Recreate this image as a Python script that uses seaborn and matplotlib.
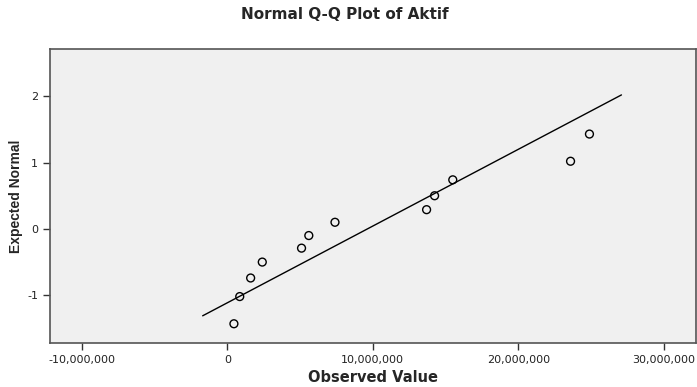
import matplotlib
matplotlib.use("Agg")
import matplotlib.pyplot as plt
import matplotlib.ticker as mticker
import seaborn as sns
import pandas as pd

# Dados (Q-Q normal de Aktif)
valor_observado = [0.45e6, 0.85e6, 1.6e6, 2.4e6, 5.1e6, 5.6e6, 7.4e6,
                   13.7e6, 14.25e6, 15.5e6, 23.6e6, 24.9e6]
normal_esperado = [-1.43, -1.02, -0.74, -0.50, -0.29, -0.10, 0.10,
                   0.29, 0.50, 0.74, 1.02, 1.43]

# Linha de referência (extremos)
linha_x = [-1.7e6, 27.1e6]
linha_y = [-1.31, 2.02]

x_ticks = [-10e6, 0, 10e6, 20e6, 30e6]
y_ticks = [-1, 0, 1, 2]

df = pd.DataFrame({'Observed': valor_observado, 'Expected': normal_esperado})
df_linha = pd.DataFrame({'x': linha_x, 'y': linha_y})

sns.set_style("ticks")
plt.rcParams['font.family'] = ['DejaVu Sans']
plt.rcParams['axes.unicode_minus'] = False

fig = plt.figure(figsize=(6.97, 3.87), dpi=100)
ax = fig.add_axes([0.0717, 0.1137, 0.9263, 0.7593])
ax.set_facecolor('#f0f0f0')

sns.lineplot(data=df_linha, x='x', y='y', color='black', linewidth=1.0, ax=ax)
sns.scatterplot(data=df, x='Observed', y='Expected', marker='o', s=32,
                facecolors='none', edgecolor='black', linewidth=1.0, ax=ax)

ax.set_xlim(-12.2e6, 32.2e6)
ax.set_ylim(-1.72, 2.71)
ax.set_xticks(x_ticks)
ax.set_yticks(y_ticks)
ax.xaxis.set_major_formatter(mticker.FuncFormatter(lambda v, p: f'{v:,.0f}'))
ax.tick_params(axis='both', labelsize=8, length=5, width=1, color='#333333', labelcolor='#222222')

for sp in ax.spines.values():
    sp.set_visible(True)
    sp.set_color('#555555')
    sp.set_linewidth(1.2)

ax.set_xlabel('Observed Value', fontsize=10.5, fontweight='bold', labelpad=4)
ax.set_ylabel('Expected Normal', fontsize=10, fontweight='bold',
              family=['Liberation Sans'], labelpad=3)
fig.suptitle('Normal Q-Q Plot of Aktif', x=0.494, y=0.982, fontsize=11,
             fontweight='bold', va='top')

fig.savefig('out.png', dpi=100)
